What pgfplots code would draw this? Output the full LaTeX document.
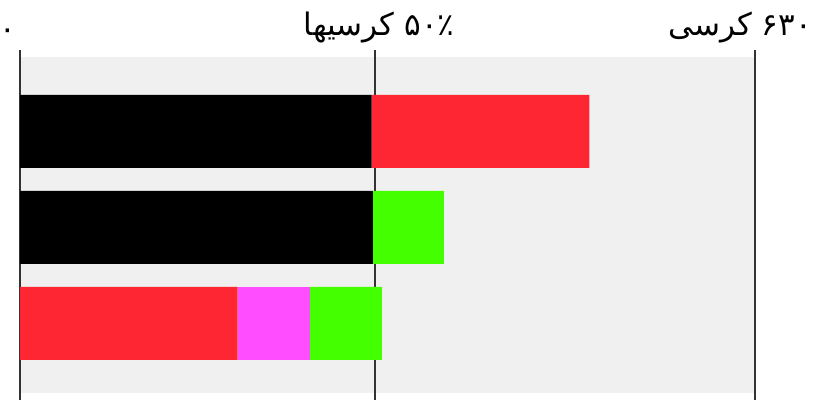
\documentclass[border=0pt]{standalone}
\usepackage{pgfplots}
\pgfplotsset{compat=1.18}
\usepackage{fontspec}
\TeXXeTstate=1
\newfontfamily\arabicfont[Script=Arabic]{DejaVu Sans}
\definecolor{bggray}{RGB}{240,240,240}
\definecolor{linegray}{RGB}{51,51,51}
\definecolor{cred}{RGB}{255,38,52}
\definecolor{cgreen}{RGB}{68,255,0}
\definecolor{cmag}{RGB}{255,77,255}
\begin{document}
\begin{tikzpicture}
\useasboundingbox (0,0) rectangle (408.5pt,200pt);
\begin{axis}[
  at={(10pt,3.5pt)}, anchor=south west,
  scale only axis, width=367.5pt, height=168pt,
  xmin=0, xmax=652, ymin=0.276, ymax=3.776,
  xbar stacked, bar width=36.5pt,
  axis line style={draw=none}, tick style={draw=none},
  xtick=\empty, ytick=\empty,
  axis background/.style={fill=bggray},
  clip=false,
]
\addplot[fill=black, draw=none] coordinates {(0,1) (313,2) (312,3)};
\addplot[fill=cred, draw=none] coordinates {(193,1) (0,2) (193,3)};
\addplot[fill=cmag, draw=none] coordinates {(64,1) (0,2) (0,3)};
\addplot[fill=cgreen, draw=none] coordinates {(64,1) (63,2) (0,3)};
\draw[linegray, line width=1pt] (axis cs:0,0.203) -- (axis cs:0,3.849);
\draw[linegray, line width=1pt] (axis cs:315,0.203) -- (axis cs:315,3.849);
\draw[linegray, line width=1pt] (axis cs:652,0.203) -- (axis cs:652,3.849);
\end{axis}
\node[anchor=base, font=\arabicfont\fontsize{15.5}{17}\selectfont, inner sep=0pt] at (4pt,180pt) {\beginR ۰\endR};
\node[anchor=base, font=\arabicfont\fontsize{15.5}{17}\selectfont, inner sep=0pt] at (189.5pt,182pt) {\beginR\beginL ۵۰٪\endL{} کرسیها\endR};
\node[anchor=base, font=\arabicfont\fontsize{15.5}{17}\selectfont, inner sep=0pt] at (370pt,182pt) {\beginR\beginL ۶۳۰\endL{} کرسی\endR};
\end{tikzpicture}
\end{document}
